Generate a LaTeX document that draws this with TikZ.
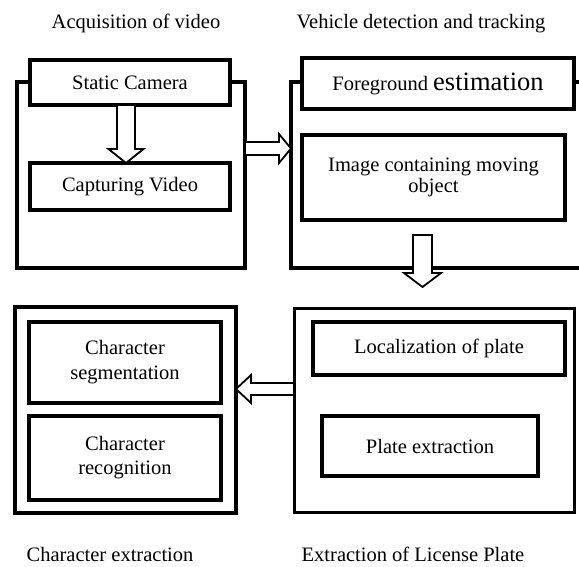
\documentclass[tikz,border=0pt]{standalone}
\usepackage{fontspec}
\setmainfont{Liberation Serif}
\usetikzlibrary{calc}
\tikzset{
  outerbox/.style={draw, line width=3.2pt, rectangle, inner sep=0pt, outer sep=0pt, fill=white},
  innerbox/.style={draw, line width=3.8pt, rectangle, inner sep=0pt, outer sep=0pt, fill=white,
    align=center, font=\fontsize{20.5}{23}\selectfont},
  caption/.style={font=\fontsize{20.5}{23}\selectfont, inner sep=0pt},
  blockarrow/.style={draw, fill=white, line width=1.8pt, line join=miter},
}
\begin{document}
\begin{tikzpicture}[x=1pt, y=-1pt]
\useasboundingbox (0,0) rectangle (579,567);

% stage captions
\node[caption] (capA) at (136,23) {Acquisition of video};
\node[caption] (capB) at (421,24) {Vehicle detection and tracking};
\node[caption] (capC) at (110,554.5) {Character extraction};
\node[caption] (capD) at (413,554.5) {Extraction of License Plate};

% outer stage frames
\node[outerbox, minimum width=228, minimum height=186] (acq) at (131,175) {};
\begin{scope}
  \clip (0,0) rectangle (579,567);
  \node[outerbox, minimum width=309, minimum height=186] (veh) at (445.5,175) {};
\end{scope}
\node[outerbox, minimum width=221, minimum height=206] (chx) at (125.5,410) {};
\node[outerbox, line width=3pt, minimum width=280, minimum height=204] (lic) at (434,410) {};

% processing steps
\node[innerbox, minimum width=200, minimum height=45] (cam) at (130,82.5) {Static Camera};
\node[innerbox, minimum width=200, minimum height=47] (cap) at (130,186.5) {Capturing Video};
\node[innerbox, minimum width=272, minimum height=51] (fg) at (438,83.5)
  {Foreground {\fontsize{26.5}{30}\selectfont estimation}};
\node[innerbox, minimum width=263, minimum height=85, font=\fontsize{20.5}{21.5}\selectfont] (img) at (433.5,177.5)
  {Image containing moving\\object};
\node[innerbox, minimum width=192, minimum height=81, font=\fontsize{20.5}{25}\selectfont] (seg) at (125,362.5)
  {Character\\segmentation};
\node[innerbox, minimum width=192, minimum height=84, font=\fontsize{20.5}{24}\selectfont] (rec) at (125,458)
  {Character\\recognition};
\node[innerbox, minimum width=252, minimum height=53] (loc) at (439,348.5) {Localization of plate};
\node[innerbox, minimum width=216, minimum height=60] (plx) at (430,446) {Plate extraction};

% block arrow: Static Camera -> Capturing Video
\coordinate (d1s) at ($(cam.south)+(-4,0)$);
\coordinate (d1t) at ($(cap.north)+(-4,0)$);
\draw[blockarrow] ($(d1s)+(-9,0)$) -- ($(d1t)+(-9,-14)$) -- ($(d1t)+(-17.5,-14)$) -- (d1t)
  -- ($(d1t)+(17.5,-14)$) -- ($(d1t)+(9,-14)$) -- ($(d1s)+(9,0)$) -- cycle;

% block arrow: acquisition -> detection
\coordinate (r1s) at ($(acq.east)+(0,-26.5)$);
\coordinate (r1t) at ($(veh.west)+(0,-26.5)$);
\draw[blockarrow] ($(r1s)+(0,-6.5)$) -- ($(r1t)+(-12,-6.5)$) -- ($(r1t)+(-12,-14.5)$) -- (r1t)
  -- ($(r1t)+(-12,14.5)$) -- ($(r1t)+(-12,6.5)$) -- ($(r1s)+(0,6.5)$) -- cycle;

% block arrow: detection -> license plate extraction
\coordinate (d2s) at ($(img.south)+(-11,15)$);
\coordinate (d2t) at ($(lic.north)+(-11.5,-21)$);
\draw[blockarrow] ($(d2s)+(-9.5,0)$) -- ($(d2t)+(-9.5,-14)$) -- ($(d2t)+(-18.5,-14)$) -- (d2t)
  -- ($(d2t)+(18.5,-14)$) -- ($(d2t)+(9.5,-14)$) -- ($(d2s)+(9.5,0)$) -- cycle;

% block arrow: license plate extraction -> character extraction
\coordinate (l1s) at ($(lic.west)+(0,-21)$);
\coordinate (l1t) at ($(chx.east)+(0,-21)$);
\draw[blockarrow] ($(l1s)+(0,-6)$) -- ($(l1t)+(15,-6)$) -- ($(l1t)+(15,-14)$) -- (l1t)
  -- ($(l1t)+(15,14)$) -- ($(l1t)+(15,6)$) -- ($(l1s)+(0,6)$) -- cycle;
\end{tikzpicture}
\end{document}
